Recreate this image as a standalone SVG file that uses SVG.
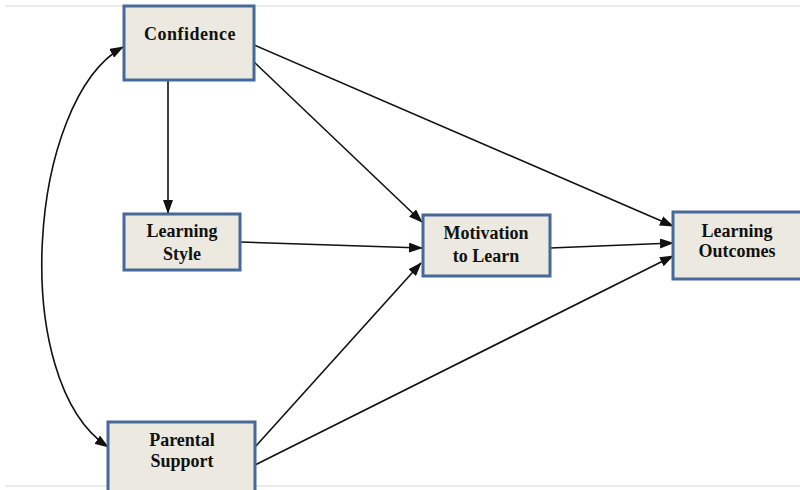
<svg xmlns="http://www.w3.org/2000/svg" width="800" height="490" viewBox="0 0 800 490">
<style>
.box{fill:#ECEAE0;stroke:#44699A;stroke-width:3}
.lbl{font-weight:bold;font-size:18px;fill:#111;text-anchor:middle}
.edge{fill:none;stroke:#111;stroke-width:1.6}
</style>
<defs>
<marker id="ah" viewBox="0 0 14 10" refX="13" refY="5" markerWidth="14" markerHeight="10" markerUnits="userSpaceOnUse" orient="auto-start-reverse">
<path d="M0,0 L14,5 L0,10 z" fill="#111"/>
</marker>
</defs>
<rect width="800" height="490" fill="#fff"/>
<line x1="5" y1="6" x2="800" y2="6" stroke="#ebebeb" stroke-width="2"/>
<line x1="5" y1="486" x2="800" y2="486" stroke="#ebebeb" stroke-width="2"/>
<g id="connectors">
<path class="edge" d="M123,47 C28,100 8,380 108,447" marker-start="url(#ah)" marker-end="url(#ah)"/>
<line class="edge" x1="168" y1="80" x2="168" y2="213" marker-end="url(#ah)"/>
<line class="edge" x1="254" y1="62" x2="422" y2="222" marker-end="url(#ah)"/>
<line class="edge" x1="254" y1="45" x2="673" y2="226" marker-end="url(#ah)"/>
<line class="edge" x1="240" y1="242" x2="422" y2="248" marker-end="url(#ah)"/>
<line class="edge" x1="550" y1="248" x2="673" y2="243" marker-end="url(#ah)"/>
<line class="edge" x1="255" y1="447" x2="421" y2="263" marker-end="url(#ah)"/>
<line class="edge" x1="255" y1="465" x2="673" y2="256" marker-end="url(#ah)"/>
</g>
<g font-family="Liberation Serif, serif">
<g id="confidence">
<rect class="box" x="124" y="6" width="130" height="74"/>
<text class="lbl" x="190" y="40" letter-spacing="0.5">Confidence</text>
</g>
<g id="learning-style">
<rect class="box" x="124" y="214" width="116" height="56"/>
<text class="lbl" x="182" y="237">Learning</text>
<text class="lbl" x="182" y="260">Style</text>
</g>
<g id="motivation">
<rect class="box" x="423" y="215" width="127" height="61"/>
<text class="lbl" x="486" y="239">Motivation</text>
<text class="lbl" x="486" y="262">to Learn</text>
</g>
<g id="learning-outcomes">
<rect class="box" x="673" y="212" width="130" height="67"/>
<text class="lbl" x="737" y="237">Learning</text>
<text class="lbl" x="737" y="257">Outcomes</text>
</g>
<g id="parental-support">
<rect class="box" x="108" y="422" width="147" height="72"/>
<text class="lbl" x="182" y="446">Parental</text>
<text class="lbl" x="182" y="467">Support</text>
</g>
</g>
</svg>
